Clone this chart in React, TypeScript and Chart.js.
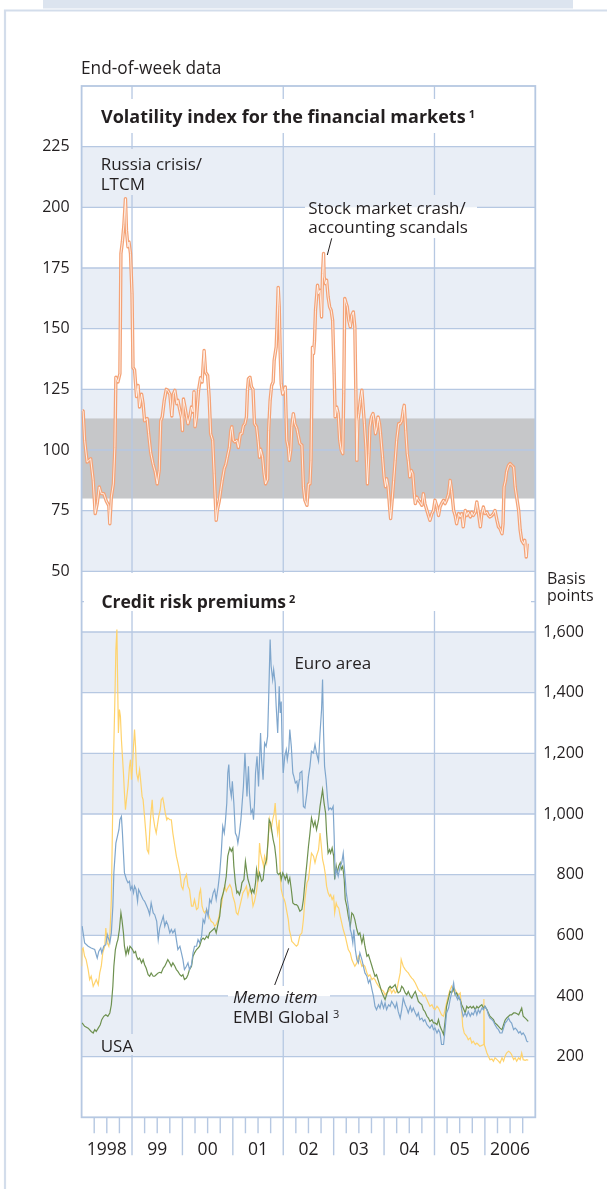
import React, { useEffect, useRef } from 'react';
import { Chart, registerables } from 'chart.js';

Chart.register(...registerables);

// ---------- data ----------
const yearLabels = ['1998', '99', '00', '01', '02', '03', '04', '05', '2006'];
const volTicks = [50, 75, 100, 125, 150, 175, 200, 225];
const bpTicks = [200, 400, 600, 800, 1000, 1200, 1400, 1600];
const volBands = [[50, 75], [100, 125], [150, 175], [200, 225]];
const bpBands = [[200, 400], [600, 800], [1000, 1200], [1400, 1600]];
const normalRange = [80, 113];
const dividerYears = [1999, 2002, 2005];

const volatility: [number, number][] = [
  [1998.01, 116.3], [1998.03, 116], [1998.06, 104], [1998.11, 95], [1998.18, 96.4], [1998.23, 87.5], [1998.27, 73.8], [1998.31, 78], [1998.35, 84.8], [1998.39, 82], [1998.44, 82], [1998.49, 79], [1998.54, 77], [1998.56, 69.6], [1998.59, 80.6], [1998.63, 86], [1998.66, 101], [1998.68, 130], [1998.72, 128], [1998.76, 131.5], [1998.78, 181], [1998.81, 186], [1998.84, 193], [1998.87, 203.6], [1998.89, 190.5], [1998.92, 183.7], [1998.94, 185.7], [1998.97, 181],
  [1999.0, 164.4], [1999.02, 134], [1999.05, 133], [1999.09, 122], [1999.12, 126.6], [1999.15, 117.7], [1999.19, 123], [1999.22, 119], [1999.25, 112], [1999.3, 113], [1999.33, 106.7], [1999.37, 99], [1999.42, 94], [1999.46, 91], [1999.5, 86], [1999.54, 91.6], [1999.57, 112], [1999.6, 113.6], [1999.64, 120.5], [1999.68, 125], [1999.71, 124.6], [1999.75, 123], [1999.79, 114], [1999.82, 123], [1999.85, 124.6], [1999.89, 119], [1999.91, 120.5], [1999.95, 116.3], [1999.98, 113.6],
  [2000.0, 108], [2000.02, 121], [2000.05, 117.7], [2000.08, 114], [2000.11, 110.8], [2000.15, 114], [2000.18, 117.7], [2000.21, 115.7], [2000.23, 124], [2000.25, 109.6], [2000.28, 113.6], [2000.32, 124.6], [2000.36, 129.8], [2000.39, 128], [2000.43, 141], [2000.46, 132], [2000.5, 130.7], [2000.53, 121.8], [2000.56, 106.7], [2000.6, 104], [2000.63, 90.2], [2000.67, 71], [2000.69, 75], [2000.73, 79], [2000.76, 83.4], [2000.79, 87.5], [2000.83, 92.3], [2000.86, 94], [2000.89, 97], [2000.93, 101], [2000.96, 108], [2000.98, 109.6],
  [2001.01, 104], [2001.04, 103.3], [2001.08, 104], [2001.11, 101], [2001.15, 106.7], [2001.18, 106.7], [2001.21, 110], [2001.24, 110.8], [2001.27, 113.6], [2001.29, 124.6], [2001.31, 129.4], [2001.34, 130], [2001.37, 126], [2001.4, 125], [2001.43, 110.8], [2001.47, 109.6], [2001.5, 104], [2001.53, 97], [2001.55, 100.4], [2001.59, 97], [2001.62, 90.2], [2001.65, 86], [2001.69, 88], [2001.71, 108], [2001.74, 120.5], [2001.77, 126.6], [2001.8, 128], [2001.82, 137], [2001.86, 142.4], [2001.88, 153.4], [2001.9, 167], [2001.92, 159], [2001.94, 139.7], [2001.96, 127.3], [2001.99, 123],
  [2002.02, 124.6], [2002.04, 126], [2002.07, 104], [2002.1, 101], [2002.12, 95.7], [2002.15, 99.9], [2002.17, 109.6], [2002.2, 115], [2002.23, 110.8], [2002.27, 108.8], [2002.29, 106.7], [2002.33, 102.6], [2002.37, 102], [2002.4, 84.8], [2002.43, 79.3], [2002.47, 77.2], [2002.5, 86], [2002.53, 86], [2002.55, 95.7], [2002.58, 142.4], [2002.6, 139.7], [2002.62, 145], [2002.64, 157.6], [2002.68, 167.9], [2002.7, 164.4], [2002.73, 165.8], [2002.76, 154.8], [2002.78, 172.7], [2002.8, 181], [2002.81, 171.3], [2002.84, 168.5], [2002.86, 170], [2002.89, 163], [2002.92, 159], [2002.95, 157.6], [2002.98, 153.4],
  [2003.01, 131.5], [2003.03, 113.6], [2003.06, 117.7], [2003.09, 115], [2003.12, 104], [2003.15, 100], [2003.18, 98.5], [2003.2, 123.2], [2003.22, 162.4], [2003.25, 160.3], [2003.27, 159], [2003.3, 153.4], [2003.33, 150.7], [2003.36, 155.5], [2003.39, 156.9], [2003.42, 150.7], [2003.44, 124.6], [2003.46, 95.7], [2003.48, 112], [2003.5, 115], [2003.53, 120.5], [2003.56, 124.6], [2003.58, 119], [2003.61, 110.8], [2003.64, 101.2], [2003.67, 86], [2003.7, 98.5], [2003.72, 109.5], [2003.75, 113.6], [2003.78, 115], [2003.8, 112], [2003.83, 106.7], [2003.86, 109.5], [2003.88, 113.6], [2003.91, 110.8], [2003.93, 106.7], [2003.97, 97],
  [2004.0, 88.9], [2004.03, 84.8], [2004.05, 88.2], [2004.08, 84.8], [2004.11, 76.5], [2004.13, 71.7], [2004.16, 79.3], [2004.19, 87.5], [2004.22, 95.7], [2004.25, 104], [2004.29, 110.8], [2004.32, 110.8], [2004.35, 112], [2004.38, 116.3], [2004.4, 118.4], [2004.43, 108], [2004.46, 98.5], [2004.48, 95.7], [2004.51, 88.9], [2004.54, 91.6], [2004.57, 90.2], [2004.6, 82], [2004.62, 77.9], [2004.65, 80.6], [2004.68, 79.3], [2004.71, 78.6], [2004.75, 77.2], [2004.78, 82], [2004.81, 77.9], [2004.85, 75.1], [2004.88, 73], [2004.91, 71], [2004.95, 73.8], [2004.98, 75.1],
  [2005.01, 79.3], [2005.05, 76.5], [2005.08, 73], [2005.11, 76.5], [2005.14, 77.9], [2005.18, 79.3], [2005.21, 77.9], [2005.24, 79.3], [2005.28, 82], [2005.31, 87.5], [2005.34, 83.4], [2005.38, 75.1], [2005.41, 73], [2005.44, 69.6], [2005.48, 73.8], [2005.51, 72.4], [2005.54, 73.8], [2005.57, 68.3], [2005.61, 75.1], [2005.64, 73], [2005.67, 74.4], [2005.71, 72.4], [2005.74, 74.4], [2005.77, 73], [2005.81, 74.4], [2005.84, 78.6], [2005.87, 74.4], [2005.91, 68.3], [2005.94, 73.8], [2005.97, 76.5],
  [2006.0, 73.8], [2006.04, 74.4], [2006.07, 73], [2006.1, 72.4], [2006.14, 73], [2006.17, 73.8], [2006.2, 75.1], [2006.24, 71], [2006.27, 68.3], [2006.3, 67.6], [2006.34, 65.5], [2006.36, 69.6], [2006.38, 84.8], [2006.41, 87.5], [2006.43, 91], [2006.47, 93.7], [2006.5, 94.4], [2006.53, 93.7], [2006.57, 93], [2006.6, 84.8], [2006.63, 80.6], [2006.67, 75.1], [2006.7, 67], [2006.73, 62.8], [2006.77, 61.4], [2006.79, 62.8], [2006.82, 55.9], [2006.84, 61.4],
];

const euroArea: [number, number][] = [
  [1998.01, 630], [1998.06, 575], [1998.13, 564], [1998.19, 558], [1998.26, 553], [1998.31, 525], [1998.34, 547], [1998.38, 558], [1998.4, 542], [1998.44, 564], [1998.48, 569], [1998.51, 602], [1998.54, 586], [1998.56, 575], [1998.59, 608], [1998.62, 696], [1998.64, 806], [1998.68, 904], [1998.71, 926], [1998.74, 948], [1998.76, 981], [1998.79, 992], [1998.81, 937], [1998.83, 871], [1998.85, 806], [1998.89, 784], [1998.92, 773], [1998.95, 778], [1998.97, 751],
  [1999.0, 762], [1999.03, 740], [1999.05, 762], [1999.08, 751], [1999.11, 712], [1999.13, 751], [1999.16, 740], [1999.19, 729], [1999.22, 718], [1999.25, 712], [1999.28, 701], [1999.32, 685], [1999.35, 668], [1999.38, 707], [1999.42, 674], [1999.45, 668], [1999.49, 646], [1999.52, 586], [1999.55, 624], [1999.58, 641], [1999.62, 663], [1999.65, 630], [1999.68, 646], [1999.71, 635], [1999.75, 608], [1999.78, 619], [1999.81, 608], [1999.85, 619], [1999.88, 586], [1999.91, 553], [1999.95, 564], [1999.98, 542],
  [2000.01, 520], [2000.04, 487], [2000.08, 498], [2000.11, 509], [2000.14, 487], [2000.18, 503], [2000.21, 542], [2000.24, 564], [2000.28, 564], [2000.31, 586], [2000.34, 575], [2000.38, 597], [2000.41, 652], [2000.44, 641], [2000.48, 685], [2000.51, 663], [2000.54, 718], [2000.57, 707], [2000.61, 740], [2000.64, 751], [2000.67, 718], [2000.71, 762], [2000.74, 806], [2000.77, 871], [2000.8, 959], [2000.83, 937], [2000.85, 970], [2000.88, 1036], [2000.9, 1135], [2000.92, 1163], [2000.94, 1091], [2000.97, 1058], [2000.99, 1108],
  [2001.02, 1036], [2001.05, 937], [2001.08, 926], [2001.1, 904], [2001.13, 937], [2001.16, 981], [2001.18, 1025], [2001.21, 1091], [2001.24, 1201], [2001.26, 1135], [2001.28, 1058], [2001.31, 1157], [2001.33, 1069], [2001.36, 1003], [2001.39, 1014], [2001.41, 981], [2001.43, 1036], [2001.45, 1135], [2001.48, 1190], [2001.51, 1091], [2001.53, 1179], [2001.55, 1267], [2001.57, 1179], [2001.6, 1113], [2001.63, 1234], [2001.66, 1223], [2001.69, 1256], [2001.71, 1377], [2001.74, 1575], [2001.76, 1487], [2001.79, 1443], [2001.81, 1476], [2001.84, 1432], [2001.86, 1355], [2001.89, 1267], [2001.92, 1421], [2001.94, 1333], [2001.96, 1371], [2001.98, 1212],
  [2002.0, 1135], [2002.03, 1190], [2002.06, 1212], [2002.08, 1179], [2002.11, 1212], [2002.13, 1278], [2002.16, 1223], [2002.19, 1135], [2002.21, 1124], [2002.24, 1102], [2002.27, 1108], [2002.29, 1080], [2002.32, 1113], [2002.33, 1135], [2002.37, 1141], [2002.4, 1025], [2002.43, 1020], [2002.47, 1069], [2002.5, 1124], [2002.53, 1157], [2002.56, 1207], [2002.6, 1201], [2002.63, 1229], [2002.66, 1201], [2002.7, 1174], [2002.73, 1267], [2002.76, 1344], [2002.78, 1443], [2002.8, 1267], [2002.82, 1157], [2002.85, 1113], [2002.88, 1047], [2002.9, 1014], [2002.93, 1020], [2002.96, 1014], [2002.99, 1025],
  [2003.01, 926], [2003.03, 795], [2003.06, 817], [2003.09, 795], [2003.13, 828], [2003.16, 839], [2003.19, 871], [2003.22, 806], [2003.25, 740], [2003.27, 718], [2003.3, 685], [2003.33, 619], [2003.35, 608], [2003.38, 575], [2003.4, 619], [2003.43, 553], [2003.46, 520], [2003.49, 509], [2003.52, 542], [2003.56, 520], [2003.59, 498], [2003.62, 476], [2003.66, 465], [2003.69, 443], [2003.72, 454], [2003.76, 421], [2003.79, 399], [2003.82, 366], [2003.85, 355], [2003.89, 371], [2003.92, 360], [2003.95, 382], [2003.99, 360],
  [2004.02, 377], [2004.05, 355], [2004.09, 371], [2004.12, 366], [2004.15, 382], [2004.19, 371], [2004.22, 360], [2004.25, 377], [2004.28, 349], [2004.32, 327], [2004.35, 355], [2004.38, 393], [2004.42, 371], [2004.45, 360], [2004.48, 344], [2004.52, 366], [2004.55, 349], [2004.58, 360], [2004.62, 344], [2004.65, 333], [2004.68, 344], [2004.71, 322], [2004.75, 327], [2004.78, 316], [2004.81, 322], [2004.85, 305], [2004.88, 300], [2004.91, 294], [2004.95, 305], [2004.98, 289],
  [2005.01, 294], [2005.05, 278], [2005.08, 289], [2005.11, 278], [2005.14, 240], [2005.18, 240], [2005.21, 289], [2005.24, 344], [2005.28, 360], [2005.31, 388], [2005.34, 410], [2005.38, 443], [2005.4, 415], [2005.43, 399], [2005.46, 388], [2005.48, 399], [2005.51, 388], [2005.54, 355], [2005.57, 333], [2005.61, 344], [2005.64, 333], [2005.67, 349], [2005.71, 333], [2005.74, 344], [2005.77, 338], [2005.81, 355], [2005.84, 338], [2005.87, 355], [2005.9, 344], [2005.94, 360], [2005.97, 355],
  [2006.0, 366], [2006.04, 355], [2006.07, 338], [2006.1, 327], [2006.14, 322], [2006.17, 316], [2006.2, 305], [2006.24, 294], [2006.27, 289], [2006.3, 278], [2006.34, 278], [2006.37, 294], [2006.4, 311], [2006.43, 316], [2006.47, 327], [2006.5, 316], [2006.53, 311], [2006.57, 289], [2006.6, 294], [2006.63, 289], [2006.67, 278], [2006.7, 283], [2006.73, 273], [2006.76, 278], [2006.8, 267], [2006.83, 251], [2006.86, 248],
];

const usa: [number, number][] = [
  [1998.01, 311], [1998.06, 300], [1998.13, 294], [1998.19, 283], [1998.23, 278], [1998.26, 289], [1998.29, 283], [1998.33, 294], [1998.37, 305], [1998.4, 322], [1998.44, 333], [1998.48, 338], [1998.52, 333], [1998.56, 344], [1998.59, 371], [1998.62, 432], [1998.64, 498], [1998.67, 553], [1998.7, 575], [1998.72, 586], [1998.75, 619], [1998.78, 674], [1998.8, 652], [1998.83, 608], [1998.85, 564], [1998.88, 536], [1998.91, 558], [1998.93, 542], [1998.96, 564], [1998.99, 558],
  [1999.01, 553], [1999.04, 542], [1999.07, 547], [1999.09, 531], [1999.12, 520], [1999.15, 525], [1999.19, 509], [1999.22, 520], [1999.25, 503], [1999.28, 492], [1999.32, 470], [1999.35, 465], [1999.38, 476], [1999.42, 465], [1999.45, 465], [1999.48, 470], [1999.52, 476], [1999.55, 478], [1999.58, 476], [1999.62, 492], [1999.65, 498], [1999.68, 509], [1999.71, 520], [1999.75, 509], [1999.78, 498], [1999.81, 509], [1999.85, 498], [1999.88, 487], [1999.91, 481], [1999.95, 470], [1999.98, 465],
  [2000.01, 470], [2000.04, 454], [2000.08, 459], [2000.11, 470], [2000.14, 487], [2000.18, 498], [2000.21, 531], [2000.24, 542], [2000.28, 553], [2000.31, 558], [2000.34, 564], [2000.38, 586], [2000.41, 591], [2000.44, 586], [2000.48, 597], [2000.51, 591], [2000.54, 608], [2000.57, 613], [2000.61, 619], [2000.64, 624], [2000.67, 608], [2000.71, 641], [2000.74, 663], [2000.77, 718], [2000.81, 740], [2000.84, 762], [2000.87, 795], [2000.9, 861], [2000.94, 888], [2000.97, 877],
  [2001.0, 888], [2001.02, 828], [2001.05, 773], [2001.08, 740], [2001.1, 745], [2001.13, 734], [2001.16, 751], [2001.18, 773], [2001.22, 784], [2001.25, 844], [2001.28, 806], [2001.3, 784], [2001.33, 767], [2001.37, 740], [2001.39, 751], [2001.42, 740], [2001.45, 773], [2001.47, 817], [2001.5, 784], [2001.53, 806], [2001.57, 778], [2001.6, 784], [2001.63, 828], [2001.67, 850], [2001.7, 915], [2001.72, 981], [2001.75, 970], [2001.78, 937], [2001.8, 915], [2001.83, 893], [2001.86, 850], [2001.88, 806], [2001.91, 800], [2001.94, 806], [2001.96, 784], [2001.99, 806],
  [2002.02, 795], [2002.04, 784], [2002.07, 800], [2002.1, 773], [2002.13, 789], [2002.16, 751], [2002.19, 707], [2002.23, 701], [2002.26, 701], [2002.29, 696], [2002.33, 679], [2002.37, 685], [2002.4, 718], [2002.43, 773], [2002.47, 839], [2002.5, 893], [2002.53, 937], [2002.56, 987], [2002.6, 959], [2002.63, 976], [2002.66, 948], [2002.7, 981], [2002.73, 1025], [2002.76, 1058], [2002.78, 1080], [2002.81, 1036], [2002.84, 1003], [2002.86, 937], [2002.89, 871], [2002.92, 882], [2002.94, 871], [2002.97, 888],
  [2003.0, 861], [2003.02, 784], [2003.05, 828], [2003.07, 806], [2003.1, 828], [2003.13, 839], [2003.15, 817], [2003.18, 828], [2003.21, 784], [2003.23, 718], [2003.26, 696], [2003.29, 663], [2003.33, 630], [2003.36, 674], [2003.39, 668], [2003.42, 652], [2003.46, 619], [2003.49, 602], [2003.52, 608], [2003.56, 575], [2003.59, 597], [2003.62, 564], [2003.66, 531], [2003.69, 536], [2003.72, 520], [2003.76, 498], [2003.79, 481], [2003.82, 465], [2003.85, 470], [2003.89, 448], [2003.92, 432], [2003.95, 415], [2003.99, 399],
  [2004.02, 388], [2004.05, 404], [2004.09, 426], [2004.12, 432], [2004.15, 426], [2004.19, 432], [2004.22, 437], [2004.25, 421], [2004.28, 410], [2004.32, 415], [2004.35, 432], [2004.38, 426], [2004.42, 410], [2004.45, 404], [2004.48, 415], [2004.52, 399], [2004.55, 393], [2004.58, 404], [2004.62, 415], [2004.65, 399], [2004.68, 382], [2004.71, 377], [2004.75, 371], [2004.78, 355], [2004.81, 349], [2004.85, 333], [2004.88, 327], [2004.91, 316], [2004.95, 322], [2004.98, 311],
  [2005.01, 311], [2005.05, 305], [2005.08, 322], [2005.11, 300], [2005.14, 289], [2005.18, 273], [2005.21, 316], [2005.24, 366], [2005.28, 393], [2005.31, 415], [2005.34, 410], [2005.38, 426], [2005.41, 404], [2005.44, 410], [2005.48, 393], [2005.51, 388], [2005.54, 371], [2005.57, 360], [2005.61, 344], [2005.64, 366], [2005.67, 360], [2005.71, 366], [2005.74, 360], [2005.77, 366], [2005.81, 355], [2005.84, 366], [2005.87, 360], [2005.9, 366], [2005.94, 371], [2005.97, 360],
  [2006.0, 366], [2006.04, 355], [2006.07, 344], [2006.1, 333], [2006.14, 327], [2006.17, 322], [2006.2, 311], [2006.24, 305], [2006.27, 300], [2006.3, 294], [2006.34, 289], [2006.37, 305], [2006.4, 320], [2006.43, 327], [2006.47, 333], [2006.5, 338], [2006.53, 338], [2006.57, 344], [2006.6, 344], [2006.63, 342], [2006.67, 338], [2006.7, 349], [2006.73, 360], [2006.76, 333], [2006.8, 327], [2006.83, 322], [2006.86, 316],
];

const embiGlobal: [number, number][] = [
  [1998.0, 498], [1998.01, 553], [1998.03, 558], [1998.06, 531], [1998.09, 520], [1998.13, 487], [1998.16, 454], [1998.19, 465], [1998.23, 432], [1998.26, 443], [1998.29, 454], [1998.33, 437], [1998.36, 476], [1998.39, 498], [1998.42, 542], [1998.46, 564], [1998.48, 624], [1998.51, 575], [1998.54, 564], [1998.56, 597], [1998.59, 718], [1998.61, 937], [1998.63, 1157], [1998.66, 1377], [1998.68, 1542], [1998.7, 1608], [1998.71, 1487], [1998.73, 1267], [1998.75, 1344], [1998.77, 1322], [1998.79, 1245], [1998.81, 1190], [1998.83, 1135], [1998.85, 1069], [1998.87, 1014], [1998.89, 1047], [1998.92, 1091], [1998.95, 1157], [1998.97, 1179], [1998.99, 1113],
  [1999.01, 1157], [1999.03, 1223], [1999.05, 1278], [1999.07, 1223], [1999.09, 1135], [1999.12, 1113], [1999.15, 1146], [1999.17, 1113], [1999.2, 1058], [1999.22, 1047], [1999.25, 988], [1999.28, 926], [1999.3, 882], [1999.33, 871], [1999.35, 937], [1999.37, 992], [1999.4, 1047], [1999.42, 992], [1999.45, 959], [1999.48, 937], [1999.5, 959], [1999.53, 992], [1999.56, 1014], [1999.58, 1047], [1999.61, 1053], [1999.63, 1036], [1999.66, 1003], [1999.69, 981], [1999.71, 987], [1999.75, 981], [1999.78, 981], [1999.81, 937], [1999.85, 893], [1999.88, 861], [1999.91, 839], [1999.95, 806], [1999.98, 762],
  [2000.01, 751], [2000.04, 784], [2000.08, 800], [2000.11, 762], [2000.14, 751], [2000.18, 696], [2000.21, 696], [2000.24, 718], [2000.28, 685], [2000.31, 690], [2000.34, 740], [2000.36, 751], [2000.39, 696], [2000.42, 679], [2000.44, 674], [2000.48, 685], [2000.51, 674], [2000.54, 657], [2000.57, 646], [2000.61, 641], [2000.64, 630], [2000.67, 635], [2000.71, 652], [2000.74, 674], [2000.77, 696], [2000.81, 740], [2000.84, 762], [2000.87, 745], [2000.9, 756], [2000.94, 767], [2000.97, 756],
  [2001.0, 729], [2001.04, 707], [2001.07, 674], [2001.1, 668], [2001.14, 696], [2001.17, 718], [2001.2, 740], [2001.24, 751], [2001.27, 762], [2001.3, 729], [2001.33, 751], [2001.37, 740], [2001.4, 696], [2001.43, 712], [2001.47, 745], [2001.5, 784], [2001.53, 904], [2001.55, 871], [2001.58, 850], [2001.61, 828], [2001.63, 861], [2001.67, 839], [2001.7, 915], [2001.73, 981], [2001.76, 948], [2001.79, 981], [2001.82, 1003], [2001.84, 1036], [2001.86, 981], [2001.89, 937], [2001.92, 981], [2001.94, 795], [2001.96, 751], [2001.99, 729],
  [2002.02, 718], [2002.04, 707], [2002.07, 679], [2002.1, 652], [2002.12, 619], [2002.15, 597], [2002.17, 580], [2002.2, 575], [2002.23, 569], [2002.26, 564], [2002.29, 569], [2002.33, 600], [2002.37, 608], [2002.4, 652], [2002.43, 718], [2002.47, 773], [2002.5, 784], [2002.53, 828], [2002.56, 871], [2002.6, 861], [2002.63, 839], [2002.66, 861], [2002.7, 882], [2002.73, 937], [2002.75, 904], [2002.78, 850], [2002.81, 828], [2002.84, 795], [2002.86, 762], [2002.89, 740], [2002.92, 729], [2002.94, 734], [2002.97, 718],
  [2003.0, 729], [2003.02, 674], [2003.05, 707], [2003.07, 696], [2003.1, 690], [2003.13, 663], [2003.16, 641], [2003.19, 619], [2003.23, 597], [2003.26, 575], [2003.29, 553], [2003.33, 542], [2003.36, 520], [2003.39, 509], [2003.42, 498], [2003.46, 509], [2003.49, 531], [2003.52, 520], [2003.56, 498], [2003.59, 503], [2003.62, 498], [2003.66, 476], [2003.69, 465], [2003.72, 470], [2003.76, 454], [2003.79, 459], [2003.82, 454], [2003.85, 443], [2003.89, 432], [2003.92, 426], [2003.95, 421], [2003.99, 415],
  [2004.02, 404], [2004.05, 410], [2004.09, 415], [2004.12, 426], [2004.15, 410], [2004.19, 421], [2004.22, 410], [2004.25, 415], [2004.28, 443], [2004.32, 476], [2004.34, 520], [2004.36, 509], [2004.38, 498], [2004.42, 487], [2004.45, 481], [2004.48, 476], [2004.52, 465], [2004.55, 459], [2004.58, 454], [2004.62, 443], [2004.65, 432], [2004.68, 421], [2004.71, 415], [2004.75, 410], [2004.78, 399], [2004.81, 404], [2004.85, 388], [2004.88, 377], [2004.91, 366], [2004.95, 371], [2004.98, 360],
  [2005.01, 355], [2005.05, 366], [2005.08, 360], [2005.11, 349], [2005.14, 338], [2005.18, 333], [2005.21, 355], [2005.24, 377], [2005.28, 404], [2005.31, 421], [2005.34, 432], [2005.38, 415], [2005.41, 421], [2005.44, 410], [2005.48, 404], [2005.51, 410], [2005.54, 355], [2005.56, 300], [2005.59, 278], [2005.61, 273], [2005.64, 267], [2005.67, 256], [2005.71, 262], [2005.74, 245], [2005.77, 251], [2005.81, 240], [2005.84, 245], [2005.87, 240], [2005.9, 234], [2005.94, 237], [2005.97, 240], [2005.98, 390], [2005.99, 236],
  [2006.0, 234], [2006.04, 212], [2006.07, 201], [2006.1, 190], [2006.14, 192], [2006.17, 185], [2006.2, 196], [2006.24, 190], [2006.27, 185], [2006.3, 179], [2006.34, 196], [2006.37, 185], [2006.4, 201], [2006.43, 212], [2006.47, 218], [2006.5, 214], [2006.53, 207], [2006.57, 190], [2006.6, 196], [2006.63, 185], [2006.67, 196], [2006.7, 190], [2006.73, 212], [2006.76, 190], [2006.8, 188], [2006.83, 190], [2006.86, 188],
];

// ---------- styling ----------
const FONT = '"Open Sans", "Noto Sans", "DejaVu Sans", sans-serif';
const TEXT = '#231F20';
const GRID = '#B6C8E2';
const BAND = '#E9EEF6';
const GREY = '#C6C7C9';
const ORANGE = '#F4A276';
const BLUE = '#7FA6CC';
const GREEN = '#6E9150';
const YELLOW = '#FFD36C';

// rectangles (canvas px) where annotation labels mask the grid lines
const knockouts = [
  { x: 84, y: 99, w: 448, h: 34 },
  { x: 96, y: 149, w: 110, h: 46 },
  { x: 305, y: 195, w: 172, h: 43 },
  { x: 84, y: 573, w: 447, h: 38 },
  { x: 228, y: 986, w: 102, h: 44 },
  { x: 96, y: 1034, w: 44, h: 21 },
];

const toPts = (arr: [number, number][]) => arr.map(([x, y]) => ({ x, y }));

const bisPlugin = {
  id: 'bisLayout',
  beforeDatasetsDraw(chart: any) {
    const { ctx, chartArea: a, scales } = chart;
    const xs = scales.x, yv = scales.y, yb = scales.y2;
    const W = a.right - a.left;
    const fillBands = () => {
      ctx.fillStyle = BAND;
      volBands.forEach(([lo, hi]) => {
        const t = yv.getPixelForValue(hi), b = yv.getPixelForValue(lo);
        ctx.fillRect(a.left, t, W, b - t);
      });
      bpBands.forEach(([lo, hi]) => {
        const t = yb.getPixelForValue(hi), b = yb.getPixelForValue(lo);
        ctx.fillRect(a.left, t, W, b - t);
      });
      ctx.fillStyle = GREY;
      const gt = yv.getPixelForValue(normalRange[1]), gb = yv.getPixelForValue(normalRange[0]);
      ctx.fillRect(a.left, gt, W, gb - gt);
    };
    ctx.save();
    ctx.fillStyle = '#ffffff';
    ctx.fillRect(a.left, a.top, W, a.bottom - a.top);
    fillBands();
    ctx.strokeStyle = GRID;
    ctx.lineWidth = 1.3;
    ctx.beginPath();
    volTicks.forEach((v) => {
      const y = yv.getPixelForValue(v);
      ctx.moveTo(a.left, y); ctx.lineTo(a.right, y);
    });
    [...bpTicks, 1700].forEach((v) => {
      const y = yb.getPixelForValue(v);
      ctx.moveTo(a.left, y); ctx.lineTo(a.right, y);
    });
    dividerYears.forEach((yr) => {
      const x = xs.getPixelForValue(yr);
      ctx.moveTo(x, a.top); ctx.lineTo(x, a.bottom);
    });
    ctx.stroke();
    knockouts.forEach((r) => {
      ctx.save();
      ctx.beginPath();
      ctx.rect(r.x, r.y, r.w, r.h);
      ctx.clip();
      ctx.fillStyle = '#ffffff';
      ctx.fillRect(r.x, r.y, r.w, r.h);
      fillBands();
      ctx.restore();
    });
    ctx.lineWidth = 1.8;
    ctx.strokeRect(a.left, a.top, W, a.bottom - a.top);
    ctx.restore();
  },
  afterDraw(chart: any) {
    const { ctx, chartArea: a, scales } = chart;
    const xs = scales.x;
    ctx.save();
    // outer frame
    ctx.fillStyle = '#DCE4EF';
    ctx.fillRect(43, 0, 530, 8.5);
    ctx.strokeStyle = '#D3DDEB';
    ctx.lineWidth = 2.2;
    ctx.beginPath();
    ctx.moveTo(607, 10.5); ctx.lineTo(5, 10.5); ctx.lineTo(5, 1189);
    ctx.stroke();

    // x-axis tick marks (quarters short, years long)
    ctx.strokeStyle = GRID;
    ctx.lineWidth = 1.4;
    ctx.beginPath();
    for (let yr = 1998; yr < 2007; yr++) {
      for (let q = 0; q < 4; q++) {
        const v = yr + q * 0.25;
        if (v === 1998) continue;
        const x = xs.getPixelForValue(v);
        ctx.moveTo(x, a.bottom);
        ctx.lineTo(x, a.bottom + (q === 0 ? 38 : 16));
      }
    }
    ctx.stroke();

    // texts
    ctx.fillStyle = TEXT;
    ctx.textAlign = 'left';
    ctx.textBaseline = 'alphabetic';
    ctx.font = `17.3px ${FONT}`;
    ctx.fillText('End-of-week data', 81, 74);
    ctx.font = `16px ${FONT}`;
    ctx.fillText('Basis', 547, 583.5);
    ctx.fillText('points', 547, 600.5);

    const bold = (txt: string, sup: string, x: number, y: number, size: number) => {
      ctx.font = `bold ${size}px ${FONT}`;
      ctx.fillText(txt, x, y);
      const w = ctx.measureText(txt).width;
      ctx.font = `bold 11px ${FONT}`;
      ctx.fillText(sup, x + w + 3, y - 5);
    };
    bold('Volatility index for the financial markets', '1', 101, 122.7, 18);
    bold('Credit risk premiums', '2', 101.4, 608.3, 17.5);

    ctx.font = `17px ${FONT}`;
    ctx.fillText('Russia crisis/', 100.7, 170);
    ctx.fillText('LTCM', 100.7, 190);
    ctx.fillText('Stock market crash/', 308.3, 214);
    ctx.fillText('accounting scandals', 308.3, 233.3);
    ctx.fillText('Euro area', 294.4, 669.3);
    ctx.fillText('USA', 100.7, 1052.3);
    ctx.font = `italic 17px ${FONT}`;
    ctx.fillText('Memo item', 233, 1002.7);
    ctx.font = `17px ${FONT}`;
    ctx.fillText('EMBI Global', 233, 1023.3);
    const ew = ctx.measureText('EMBI Global').width;
    ctx.font = `11px ${FONT}`;
    ctx.fillText('3', 233 + ew + 4, 1018);

    // leader lines
    ctx.strokeStyle = '#231F20';
    ctx.lineWidth = 1;
    ctx.beginPath();
    ctx.moveTo(331.7, 238.3); ctx.lineTo(327.3, 255);
    ctx.moveTo(288.7, 948.3); ctx.lineTo(274.7, 985);
    ctx.stroke();
    ctx.restore();
  },
};

export default function App() {
  const ref = useRef<HTMLCanvasElement | null>(null);

  useEffect(() => {
    if (!ref.current) return;
    const volPts = toPts(volatility);
    const chart = new Chart(ref.current, {
      type: 'line',
      data: {
        datasets: [
          { label: 'vol-inner', data: volPts, yAxisID: 'y', borderColor: 'rgba(255,255,255,0.8)', borderWidth: 1, pointRadius: 0, order: 0, borderJoinStyle: 'round' },
          { label: 'Volatility index', data: volPts, yAxisID: 'y', borderColor: ORANGE, borderWidth: 3.4, pointRadius: 0, order: 1, borderJoinStyle: 'round' },
          { label: 'Euro area', data: toPts(euroArea), yAxisID: 'y2', borderColor: BLUE, borderWidth: 1.2, pointRadius: 0, order: 2 },
          { label: 'USA', data: toPts(usa), yAxisID: 'y2', borderColor: GREEN, borderWidth: 1.2, pointRadius: 0, order: 3 },
          { label: 'EMBI Global', data: toPts(embiGlobal), yAxisID: 'y2', borderColor: YELLOW, borderWidth: 1.2, pointRadius: 0, order: 4 },
        ],
      } as any,
      options: {
        responsive: false,
        animation: false,
        events: [],
        layout: { padding: { top: 86, left: 0, right: 23, bottom: 0 } },
        plugins: { legend: { display: false }, tooltip: { enabled: false } },
        scales: {
          x: {
            type: 'linear',
            min: 1998,
            max: 2007,
            grid: { display: false, drawTicks: false },
            border: { display: false },
            afterBuildTicks: (s: any) => { s.ticks = yearLabels.map((_, i) => ({ value: 1998.5 + i })); },
            afterFit: (s: any) => { s.height = 71.7; },
            ticks: {
              autoSkip: false, maxRotation: 0, minRotation: 0, padding: 22, color: TEXT,
              font: { family: FONT, size: 17.5 },
              callback: (_v: any, i: number) => yearLabels[i],
            },
          },
          y: {
            type: 'linear',
            position: 'left',
            min: -175,
            max: 250,
            grid: { display: false, drawTicks: false },
            border: { display: false },
            afterBuildTicks: (s: any) => { s.ticks = volTicks.map((v) => ({ value: v })); },
            afterFit: (s: any) => { s.width = 81.6; },
            ticks: { padding: 12, color: TEXT, font: { family: FONT, size: 16 }, callback: (v: any) => String(v) },
          },
          y2: {
            type: 'linear',
            position: 'right',
            min: 0,
            max: 3400,
            grid: { display: false, drawTicks: false },
            border: { display: false },
            afterBuildTicks: (s: any) => { s.ticks = bpTicks.map((v) => ({ value: v })); },
            afterFit: (s: any) => { s.width = 48.7; },
            ticks: {
              padding: 8, crossAlign: 'far', color: TEXT, font: { family: FONT, size: 16 },
              callback: (v: any) => Number(v).toLocaleString('en-US'),
            },
          },
        },
      } as any,
      plugins: [bisPlugin],
    });
    return () => chart.destroy();
  }, []);

  return (
    <div style={{ position: 'absolute', left: 0, top: 0, width: 607, height: 1189, background: '#fff' }}>
      <canvas ref={ref} width={607} height={1189} style={{ display: 'block' }} />
    </div>
  );
}
